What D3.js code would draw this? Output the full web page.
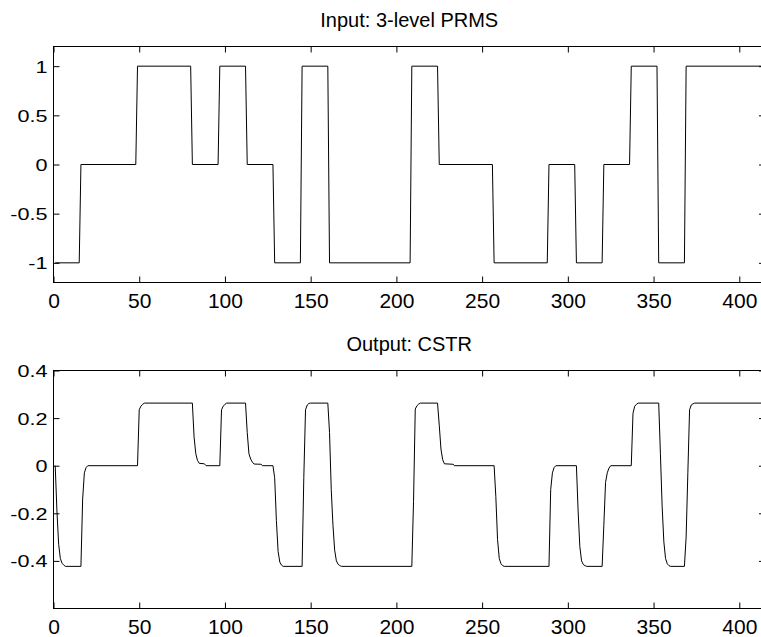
<!DOCTYPE html>
<html><head><meta charset="utf-8">
<script src="https://cdn.jsdelivr.net/npm/d3@7"></script>
<style>body{margin:0;background:#fff}svg{display:block}</style>
</head><body>
<svg id="c" width="761" height="637"></svg>
<script>
// ---- data ----
const inputChangeTimes = [1,16,49,81,97,113,129,145,161,209,225,257,289,305,321,337,353,369];
const inputLevels      = [-1,0,1,0,1,0,-1,1,-1,1,0,-1,0,-1,0,1,-1,1];
const lastSample = 415;

const outputT = [1,2,3,4,5,6,7,
  16,17,18,19,20,
  49,50,51,52,53,
  81,82,83,84,85,88,89,
  97,98,99,100,101,
  112,113,114,115,116,117,121,122,
  128,129,130,131,132,133,134,
  145,146,147,148,149,150,
  160,161,162,163,164,165,166,167,168,
  209,210,211,212,213,214,
  224,225,226,227,228,233,234,
  257,258,259,260,261,262,263,
  289,290,291,292,293,
  305,306,307,308,309,310,311,
  320,321,322,323,324,325,
  337,338,339,340,341,
  353,354,355,356,357,358,359,360,
  368,369,370,371,372,373,374,
  415];
const outputV = [0,-0.19,-0.33,-0.39,-0.41,-0.418,-0.423,
  -0.423,-0.14,-0.03,-0.008,0,
  0,0.235,0.25,0.258,0.263,
  0.263,0.12,0.05,0.022,0.01,0.008,0,
  0,0.235,0.25,0.258,0.263,
  0.263,0.14,0.05,0.028,0.015,0.007,0.006,0,
  0,-0.05,-0.23,-0.36,-0.405,-0.418,-0.423,
  -0.423,-0.05,0.235,0.255,0.262,0.263,
  0.263,0.14,-0.1,-0.25,-0.355,-0.4,-0.414,-0.42,-0.423,
  -0.423,-0.15,0.238,0.252,0.259,0.263,
  0.263,0.17,0.07,0.025,0.008,0.006,0,
  0,-0.13,-0.31,-0.39,-0.412,-0.42,-0.423,
  -0.423,-0.1,-0.03,-0.008,0,
  0,-0.19,-0.34,-0.4,-0.415,-0.42,-0.423,
  -0.423,-0.25,-0.07,-0.03,-0.01,0,
  0,0.22,0.25,0.258,0.263,
  0.263,0.05,-0.17,-0.32,-0.39,-0.412,-0.42,-0.423,
  -0.423,-0.3,-0.03,0.235,0.255,0.26,0.263,
  0.263];

const xTicks = [0,50,100,150,200,250,300,350,400];
const inputYTicks  = [-1,-0.5,0,0.5,1];
const outputYTicks = [-0.4,-0.2,0,0.2,0.4];
const titles = ["Input: 3-level PRMS", "Output: CSTR"];

// ---- build series ----
const inputPts = [];
inputChangeTimes.forEach((t0, i) => {
  const t1 = i < inputChangeTimes.length - 1 ? inputChangeTimes[i+1] - 1 : lastSample;
  inputPts.push([t0, inputLevels[i]]);
  inputPts.push([t1, inputLevels[i]]);
});
const outputPts = outputT.map((t, i) => [t, outputV[i]]);

// ---- draw ----
const svg = d3.select("#c");
svg.append("rect").attr("width", 761).attr("height", 637).attr("fill", "#fff");

const x = d3.scaleLinear().domain([0, 415]).range([53.5, 765]);
const font = "'Liberation Sans', Arial, sans-serif";

function panel(id, top, bottom, yDomain, yTicks, title, pts) {
  const y = d3.scaleLinear().domain(yDomain).range([bottom, top]);
  const g = svg.append("g");
  g.append("clipPath").attr("id", "clip" + id)
    .append("rect").attr("x", x.range()[0]).attr("y", top)
    .attr("width", x.range()[1] - x.range()[0]).attr("height", bottom - top);

  g.append("path")
    .datum(pts)
    .attr("clip-path", `url(#clip${id})`)
    .attr("fill", "none").attr("stroke", "#000").attr("stroke-width", 1)
    .attr("d", d3.line().x(d => x(d[0])).y(d => y(d[1])));

  const tl = 6;
  // bottom axis (ticks inward)
  const xb = g.append("g").attr("transform", `translate(0,${bottom})`)
    .call(d3.axisBottom(x).tickValues(xTicks).tickSize(-tl).tickPadding(10).tickFormat(d3.format("d")));
  xb.select(".domain").remove();
  xb.selectAll("text").attr("font-family", font).attr("font-size", 21).attr("fill", "#000")
    .attr("dy", null).attr("y", 25);
  // top axis ticks
  const xt = g.append("g").attr("transform", `translate(0,${top})`)
    .call(d3.axisTop(x).tickValues(xTicks).tickSize(-tl).tickFormat(""));
  xt.select(".domain").remove();
  // left axis
  const yl = g.append("g").attr("transform", `translate(${x.range()[0]},0)`)
    .call(d3.axisLeft(y).tickValues(yTicks).tickSize(-tl).tickFormat(d => String(d)));
  yl.select(".domain").remove();
  yl.selectAll(".tick text").remove();
  yl.selectAll(".tick").append("text")
    .attr("transform", "translate(-6,6) scale(1.27,1)")
    .attr("text-anchor", "end")
    .attr("font-family", font).attr("font-size", 17).attr("fill", "#000")
    .text(d => String(d));
  // right axis ticks
  const yr = g.append("g").attr("transform", `translate(${x.range()[1]},0)`)
    .call(d3.axisRight(y).tickValues(yTicks).tickSize(-tl).tickFormat(""));
  yr.select(".domain").remove();
  g.selectAll(".tick line").attr("stroke", "#000");

  // frame
  g.append("rect").attr("x", x.range()[0]).attr("y", top)
    .attr("width", x.range()[1] - x.range()[0]).attr("height", bottom - top)
    .attr("fill", "none").attr("stroke", "#000").attr("stroke-width", 1);

  // title
  g.append("text").attr("x", (x.range()[0] + x.range()[1]) / 2).attr("y", top - 19.5)
    .attr("text-anchor", "middle").attr("font-family", font).attr("font-size", 20)
    .attr("fill", "#000").text(title);
}

panel(1, 46.5, 282.5, [-1.2, 1.2], inputYTicks, titles[0], inputPts);
panel(2, 370.5, 608.5, [-0.6, 0.4], outputYTicks, titles[1], outputPts);
</script>
</body></html>
